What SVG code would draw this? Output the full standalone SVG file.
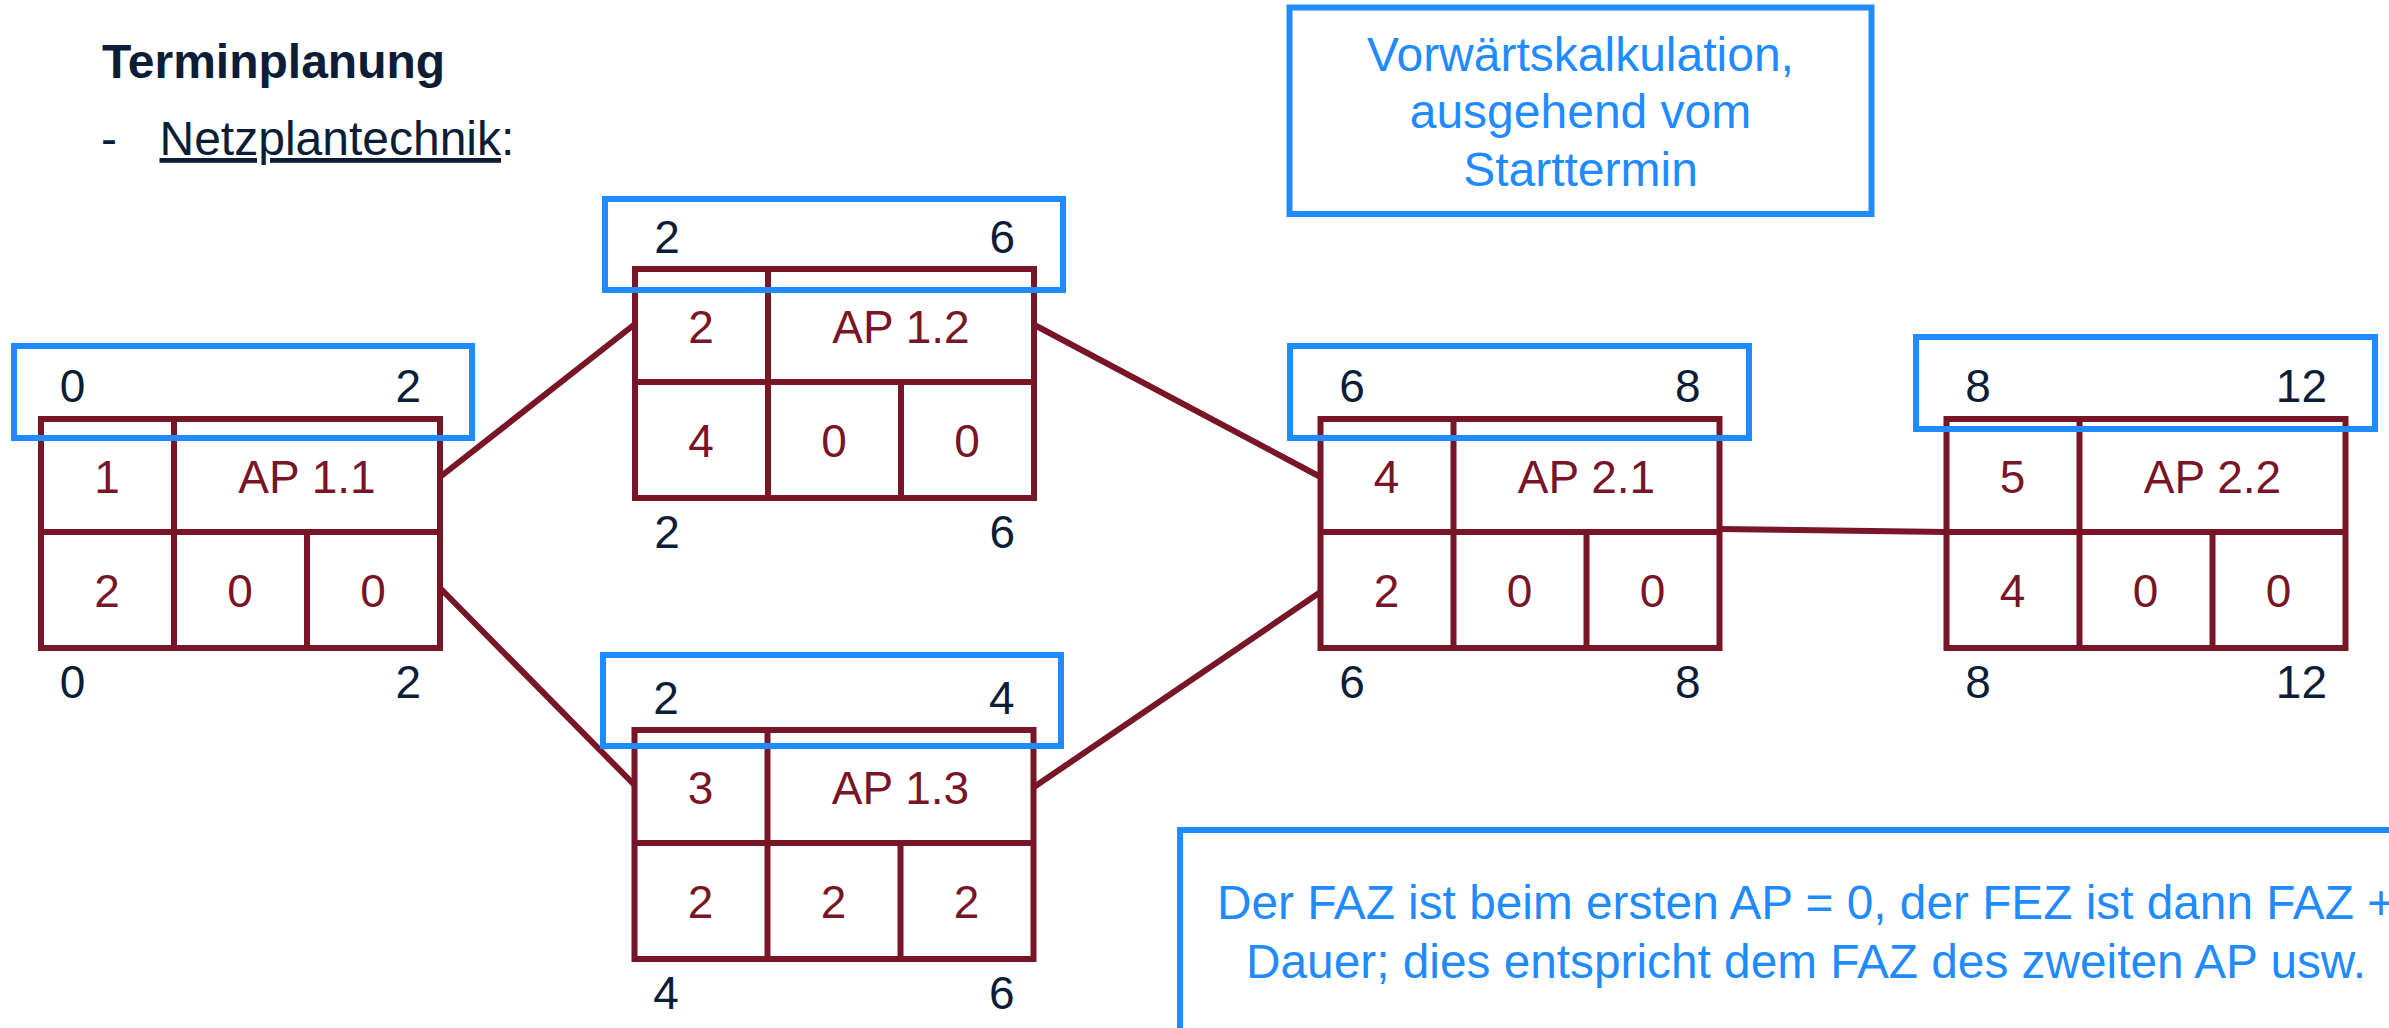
<svg xmlns="http://www.w3.org/2000/svg" xmlns:xlink="http://www.w3.org/1999/xlink" width="2389" height="1028" viewBox="0 0 2389 1028">
  <style>
    .frame { fill: none; stroke: #781527; stroke-width: 6; }
    .conn { stroke: #781527; stroke-width: 6; fill: none; }
    .hl { fill: none; stroke: #1f8bff; stroke-width: 6; }
    .cell { font-family: "Liberation Sans", Arial, sans-serif; font-size: 46px; fill: #781527; text-anchor: middle; }
    .num { font-family: "Liberation Sans", Arial, sans-serif; font-size: 46px; fill: #0c1d38; }
    .head { font-family: "Liberation Sans", Arial, sans-serif; font-size: 48px; fill: #0c1d38; }
    .note { font-family: "Liberation Sans", Arial, sans-serif; font-size: 48px; fill: #1f8bff; }
  </style>
  <defs>
    <!-- activity box: top row = number | name, bottom row = duration | GP | FP -->
    <g id="box">
      <rect class="frame" x="0" y="0" width="399" height="229"/>
      <line class="frame" x1="0" y1="113" x2="399" y2="113"/>
      <line class="frame" x1="133" y1="0" x2="133" y2="229"/>
      <line class="frame" x1="266" y1="113" x2="266" y2="229"/>
    </g>
  </defs>

  <rect x="0" y="0" width="2389" height="1028" fill="#fff"/>

  <!-- heading -->
  <g id="heading">
    <text class="head" x="102" y="78" font-weight="bold">Terminplanung</text>
    <text class="head" x="101" y="155">-</text>
    <text class="head" x="159.5" y="155"><tspan text-decoration="underline">Netzplantechnik</tspan>:</text>
  </g>

  <!-- connectors -->
  <g id="connectors">
    <line class="conn" x1="440" y1="477" x2="635" y2="324"/>
    <line class="conn" x1="440" y1="588" x2="634.5" y2="785"/>
    <line class="conn" x1="1034.5" y1="325" x2="1320.5" y2="477"/>
    <line class="conn" x1="1034" y1="787" x2="1320.5" y2="592"/>
    <line class="conn" x1="1719" y1="529" x2="1946.5" y2="532"/>
  </g>

  <!-- AP 1.1 -->
  <g id="ap11">
    <use xlink:href="#box" x="41" y="419"/>
    <text class="cell" x="107" y="493">1</text>
    <text class="cell" x="307" y="493">AP 1.1</text>
    <text class="cell" x="107" y="607">2</text>
    <text class="cell" x="240" y="607">0</text>
    <text class="cell" x="373" y="607">0</text>
    <text class="num" x="72.5" y="402" text-anchor="middle">0</text>
    <text class="num" x="421" y="402" text-anchor="end">2</text>
    <text class="num" x="72.5" y="698" text-anchor="middle">0</text>
    <text class="num" x="421" y="698" text-anchor="end">2</text>
    <rect class="hl" x="14" y="346" width="458" height="92"/>
  </g>

  <!-- AP 1.2 -->
  <g id="ap12">
    <use xlink:href="#box" x="635" y="269"/>
    <text class="cell" x="701" y="343">2</text>
    <text class="cell" x="901" y="343">AP 1.2</text>
    <text class="cell" x="701" y="457">4</text>
    <text class="cell" x="834" y="457">0</text>
    <text class="cell" x="967" y="457">0</text>
    <text class="num" x="667" y="253" text-anchor="middle">2</text>
    <text class="num" x="1015" y="253" text-anchor="end">6</text>
    <text class="num" x="667" y="548" text-anchor="middle">2</text>
    <text class="num" x="1015" y="548" text-anchor="end">6</text>
    <rect class="hl" x="605" y="199" width="458" height="91"/>
  </g>

  <!-- AP 1.3 -->
  <g id="ap13">
    <use xlink:href="#box" x="634.5" y="730"/>
    <text class="cell" x="700.5" y="804">3</text>
    <text class="cell" x="900.5" y="804">AP 1.3</text>
    <text class="cell" x="700.5" y="918">2</text>
    <text class="cell" x="833.5" y="918">2</text>
    <text class="cell" x="966.5" y="918">2</text>
    <text class="num" x="666" y="714" text-anchor="middle">2</text>
    <text class="num" x="1014.5" y="714" text-anchor="end">4</text>
    <text class="num" x="666" y="1009" text-anchor="middle">4</text>
    <text class="num" x="1014.5" y="1009" text-anchor="end">6</text>
    <rect class="hl" x="603" y="655" width="458" height="91"/>
  </g>

  <!-- AP 2.1 -->
  <g id="ap21">
    <use xlink:href="#box" x="1320.5" y="419"/>
    <text class="cell" x="1386.5" y="493">4</text>
    <text class="cell" x="1586.5" y="493">AP 2.1</text>
    <text class="cell" x="1386.5" y="607">2</text>
    <text class="cell" x="1519.5" y="607">0</text>
    <text class="cell" x="1652.5" y="607">0</text>
    <text class="num" x="1352" y="402" text-anchor="middle">6</text>
    <text class="num" x="1700.5" y="402" text-anchor="end">8</text>
    <text class="num" x="1352" y="698" text-anchor="middle">6</text>
    <text class="num" x="1700.5" y="698" text-anchor="end">8</text>
    <rect class="hl" x="1290" y="346" width="459" height="92"/>
  </g>

  <!-- AP 2.2 -->
  <g id="ap22">
    <use xlink:href="#box" x="1946.5" y="419"/>
    <text class="cell" x="2012.5" y="493">5</text>
    <text class="cell" x="2212.5" y="493">AP 2.2</text>
    <text class="cell" x="2012.5" y="607">4</text>
    <text class="cell" x="2145.5" y="607">0</text>
    <text class="cell" x="2278.5" y="607">0</text>
    <text class="num" x="1978" y="402" text-anchor="middle">8</text>
    <text class="num" x="2327" y="402" text-anchor="end">12</text>
    <text class="num" x="1978" y="698" text-anchor="middle">8</text>
    <text class="num" x="2327" y="698" text-anchor="end">12</text>
    <rect class="hl" x="1916" y="337" width="459" height="92"/>
  </g>

  <!-- explanatory notes -->
  <g id="note-forward">
    <rect class="hl" x="1289.5" y="7.5" width="582" height="206.5"/>
    <text class="note" x="1580.5" y="71" text-anchor="middle">Vorwärtskalkulation,</text>
    <text class="note" x="1580.5" y="128" text-anchor="middle">ausgehend vom</text>
    <text class="note" x="1580.5" y="185.5" text-anchor="middle">Starttermin</text>
  </g>

  <g id="note-faz">
    <rect class="hl" x="1180" y="830" width="1252" height="230"/>
    <text class="note" x="1806" y="919" text-anchor="middle" textLength="1178" lengthAdjust="spacingAndGlyphs">Der FAZ ist beim ersten AP = 0, der FEZ ist dann FAZ +</text>
    <text class="note" x="1806" y="978" text-anchor="middle" textLength="1120" lengthAdjust="spacingAndGlyphs">Dauer; dies entspricht dem FAZ des zweiten AP usw.</text>
  </g>
</svg>
